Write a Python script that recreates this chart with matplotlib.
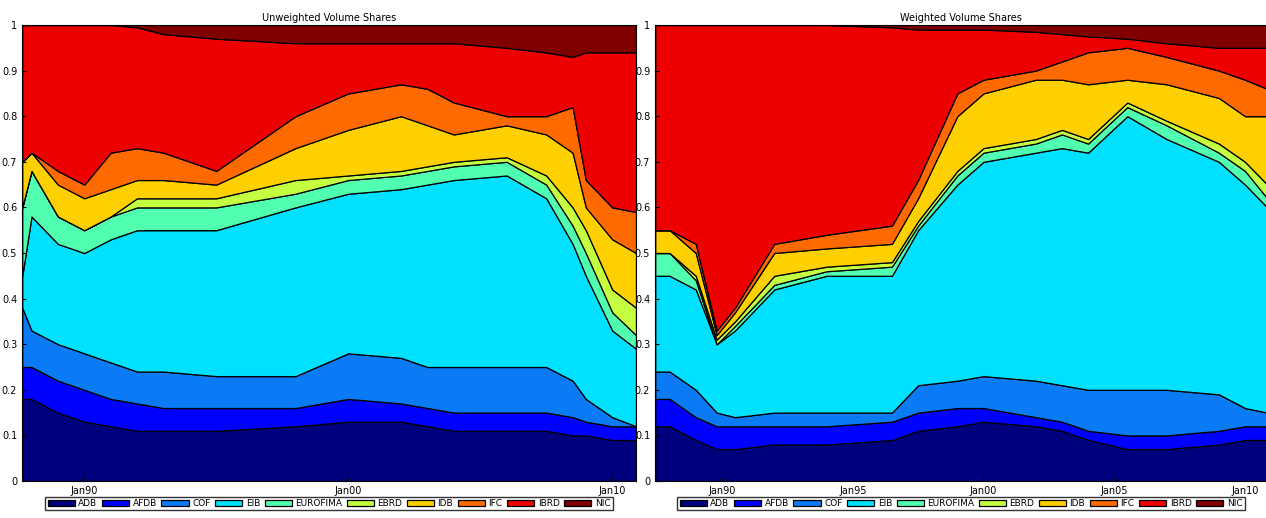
import matplotlib
matplotlib.use("Agg")
import matplotlib.pyplot as plt
import numpy as np

names = ["ADB","AFDB","COF","EIB","EUROFIMA","EBRD","IDB","IFC","IBRD","NIC"]
colors = ["#00007f","#0000ff","#0a7af5","#00e0ff","#50ffb0","#c4ff40","#ffd000","#ff6a00","#ee0000","#800000"]

# cumulative tops, left panel (Unweighted)
t_left = [1987.65,1988,1989,1990,1991,1992,1993,1995,1998,2000,2002,2003,2004,2006,2007.5,2008.5,2009,2010,2010.9]
L_ADB  = [.18,.18,.15,.13,.12,.11,.11,.11,.12,.13,.13,.12,.11,.11,.11,.10,.10,.09,.09]
L_AFDB = [.25,.25,.22,.20,.18,.17,.16,.16,.16,.18,.17,.16,.15,.15,.15,.14,.13,.12,.12]
L_COF  = [.38,.33,.30,.28,.26,.24,.24,.23,.23,.28,.27,.25,.25,.25,.25,.22,.18,.14,.12]
L_EIB  = [.45,.58,.52,.50,.53,.55,.55,.55,.60,.63,.64,.65,.66,.67,.62,.52,.45,.33,.29]
L_EURO = [.60,.68,.58,.55,.58,.60,.60,.60,.63,.66,.67,.68,.69,.70,.65,.56,.50,.37,.32]
L_EBRD = [.60,.68,.58,.55,.58,.62,.62,.62,.66,.67,.68,.69,.70,.71,.67,.60,.55,.42,.38]
L_IDB  = [.70,.72,.65,.62,.64,.66,.66,.65,.73,.77,.80,.78,.76,.78,.76,.72,.60,.53,.50]
L_IFC  = [.70,.72,.68,.65,.72,.73,.72,.68,.80,.85,.87,.86,.83,.80,.80,.82,.66,.60,.59]
L_IBRD = [1,1,1,1,1,.995,.98,.97,.96,.96,.96,.96,.96,.95,.94,.93,.94,.94,.94]

# cumulative tops, right panel (Weighted)
t_right = [1987.45,1988,1989,1989.8,1990.5,1992,1994,1996.5,1997.5,1999,2000,2002,2003,2004,2005.5,2007,2009,2010,2010.85]
R_ADB  = [.12,.12,.09,.07,.07,.08,.08,.09,.11,.12,.13,.12,.11,.09,.07,.07,.08,.09,.09]
R_AFDB = [.18,.18,.14,.12,.12,.12,.12,.13,.15,.16,.16,.14,.13,.11,.10,.10,.11,.12,.12]
R_COF  = [.24,.24,.20,.15,.14,.15,.15,.15,.21,.22,.23,.22,.21,.20,.20,.20,.19,.16,.15]
R_EIB  = [.45,.45,.42,.30,.33,.42,.45,.45,.55,.65,.70,.72,.73,.72,.80,.75,.70,.65,.60]
R_EURO = [.50,.50,.44,.30,.34,.43,.46,.47,.56,.67,.72,.74,.76,.74,.82,.78,.72,.68,.62]
R_EBRD = [.50,.50,.45,.31,.35,.45,.47,.48,.57,.68,.73,.75,.77,.75,.83,.79,.74,.70,.65]
R_IDB  = [.55,.55,.50,.32,.37,.50,.51,.52,.62,.80,.85,.88,.88,.87,.88,.87,.84,.80,.80]
R_IFC  = [.55,.55,.52,.33,.38,.52,.54,.56,.66,.85,.88,.90,.92,.94,.95,.93,.90,.88,.86]
R_IBRD = [1,1,1,1,1,1,1,.995,.99,.99,.99,.985,.98,.975,.97,.96,.95,.95,.95]

fig = plt.figure(figsize=(12.66,5.18), dpi=100)
ax1 = fig.add_axes([22/1266, 37/518, 614/1266, 456/518])
ax2 = fig.add_axes([655/1266, 37/518, 612/1266, 456/518])

def draw(ax, t, tops, title, xlim, ticks, labels):
    cum = np.vstack([np.zeros(len(t))] + [np.array(v) for v in tops] + [np.ones(len(t))])
    layers = np.diff(cum, axis=0)
    ax.stackplot(t, layers, colors=colors, labels=names, edgecolor="black", linewidth=0.9)
    ax.set_xlim(*xlim); ax.set_ylim(0,1)
    ax.set_yticks(np.arange(0,1.01,0.1))
    ax.set_yticklabels(["0"]+[f"{v:.1f}" for v in np.arange(0.1,0.95,0.1)]+["1"])
    ax.set_xticks(ticks); ax.set_xticklabels(labels)
    ax.tick_params(labelsize=7, direction="in", length=3)
    ax.set_title(title, fontsize=7, pad=3)
    ax.legend(loc="upper center", bbox_to_anchor=(0.5,-0.035), ncol=10, fontsize=6.5,
              frameon=True, edgecolor="black", fancybox=False, handlelength=3.0,
              handleheight=0.6, columnspacing=0.5, handletextpad=0.4, borderpad=0.25,
              borderaxespad=0)

draw(ax1, t_left, [L_ADB,L_AFDB,L_COF,L_EIB,L_EURO,L_EBRD,L_IDB,L_IFC,L_IBRD],
     "Unweighted Volume Shares", (1987.64,2010.9), [1990,2000,2010], ["Jan90","Jan00","Jan10"])
draw(ax2, t_right, [R_ADB,R_AFDB,R_COF,R_EIB,R_EURO,R_EBRD,R_IDB,R_IFC,R_IBRD],
     "Weighted Volume Shares", (1987.44,2010.84), [1990,1995,2000,2005,2010],
     ["Jan90","Jan95","Jan00","Jan05","Jan10"])
fig.savefig("out.png", dpi=100)
